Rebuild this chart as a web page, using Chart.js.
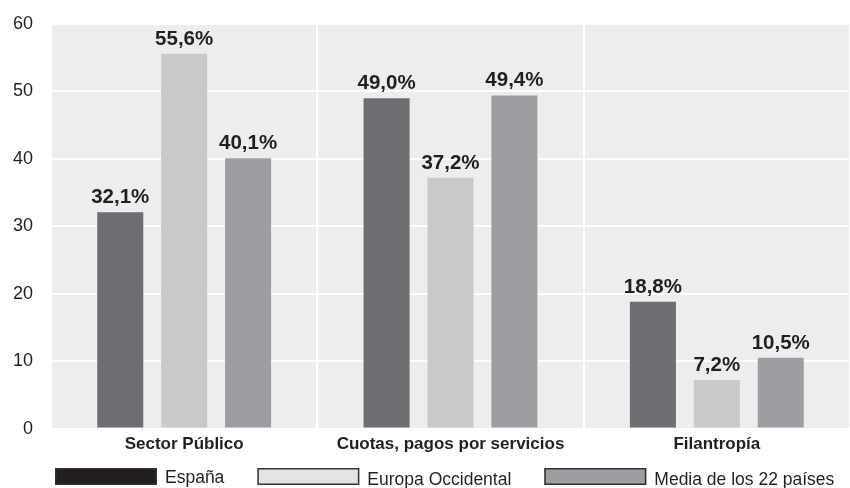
<!DOCTYPE html>
<html><head><meta charset="utf-8">
<script src="https://cdn.jsdelivr.net/npm/chart.js@4.4.0/dist/chart.umd.min.js"></script>
<style>html,body{margin:0;padding:0;background:#fff}</style>
</head><body>
<canvas id="c" width="850" height="488"></canvas>
<script>
const categories = ['Sector Público', 'Cuotas, pagos por servicios', 'Filantropía'];
const seriesNames = ['España', 'Europa Occidental', 'Media de los 22 países'];
const espana = [32.1, 49.0, 18.8];
const europa = [55.6, 37.2, 7.2];
const media = [40.1, 49.4, 10.5];
const yTicks = [0, 10, 20, 30, 40, 50, 60];

const barColors = ['#6d6e71', '#c8c9cb', '#9d9ea1'];
const legendColors = ['#231f20', '#e3e4e6', '#9d9ea1'];
const FONT = '"Liberation Sans", Arial, Helvetica, sans-serif';
const TEXT = '#231f20';

const bgPlugin = {
  id: 'bg',
  beforeDraw(chart) {
    const {ctx, chartArea: a} = chart;
    ctx.save();
    ctx.fillStyle = '#ededed';
    ctx.fillRect(a.left, a.top, a.right - a.left, a.bottom - a.top);
    ctx.restore();
  }
};

const valueLabels = {
  id: 'valueLabels',
  afterDraw(chart) {
    const ctx = chart.ctx;
    ctx.save();
    ctx.font = 'bold 20.5px ' + FONT;
    ctx.fillStyle = TEXT;
    ctx.textAlign = 'center';
    ctx.textBaseline = 'alphabetic';
    chart.data.datasets.forEach((ds, di) => {
      chart.getDatasetMeta(di).data.forEach((el, i) => {
        const txt = ds.data[i].toFixed(1).replace('.', ',') + '%';
        ctx.fillText(txt, el.x, el.y - 9);
      });
    });
    ctx.restore();
  }
};

const customLegend = {
  id: 'customLegend',
  afterDraw(chart) {
    const ctx = chart.ctx;
    ctx.save();
    ctx.font = '17.5px ' + FONT;
    ctx.textBaseline = 'alphabetic';
    ctx.textAlign = 'left';
    let x = 55;
    const boxW = 102, boxH = 17, top = 468, gap = 33;
    chart.data.datasets.forEach((ds, i) => {
      ctx.fillStyle = legendColors[i];
      ctx.fillRect(x, top, boxW, boxH);
      ctx.strokeStyle = '#333333';
      ctx.lineWidth = 1.5;
      ctx.strokeRect(x + 0.75, top + 0.75, boxW - 1.5, boxH - 1.5);
      ctx.fillStyle = TEXT;
      const tx = x + boxW + 8;
      ctx.fillText(ds.label, tx, top + 15 + (i > 0 ? 2 : 0));
      x = tx + ctx.measureText(ds.label).width + gap;
    });
    ctx.restore();
  }
};

const seriesData = [espana, europa, media];

new Chart(document.getElementById('c'), {
  type: 'bar',
  data: {
    labels: categories,
    datasets: seriesNames.map((n, i) => ({
      label: n,
      data: seriesData[i],
      backgroundColor: barColors[i],
      borderWidth: 0,
      categoryPercentage: 0.72,
      barPercentage: 0.72
    }))
  },
  options: {
    responsive: false,
    animation: false,
    devicePixelRatio: 1,
    layout: {padding: {left: 13, right: 0, top: 24, bottom: 27}},
    plugins: {legend: {display: false}, tooltip: {enabled: false}},
    scales: {
      x: {
        afterFit(scale) { scale.paddingLeft = 0; scale.paddingRight = 0; },
        grid: {offset: true, color: '#ffffff', lineWidth: 2, drawTicks: false},
        border: {display: false},
        ticks: {color: TEXT, font: {family: FONT, size: 17, weight: 'bold'}, padding: 6, maxRotation: 0}
      },
      y: {
        min: 0, max: 60,
        z: 1,
        afterFit(scale) { scale.paddingTop = 0; scale.paddingBottom = 0; scale.width = 38; },
        afterBuildTicks(scale) { scale.ticks = yTicks.map(v => ({value: v})); },
        grid: {color: 'rgba(255,255,255,0.92)', lineWidth: 2, drawTicks: false},
        border: {display: false},
        ticks: {color: TEXT, font: {family: FONT, size: 18}, padding: 18}
      }
    }
  },
  plugins: [bgPlugin, valueLabels, customLegend]
});
</script>
</body></html>
